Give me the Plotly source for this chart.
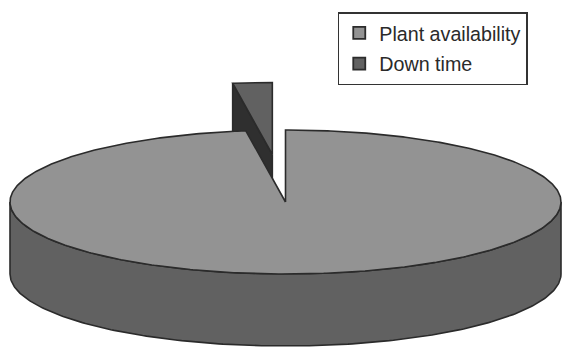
import numpy as np
import plotly.graph_objects as go

# Share of operating time
categories = ["Plant availability", "Down time"]
values = [97.7, 2.3]

# Styling / geometry of the tilted pie
top_colors = ["#939393", "#616161"]
side_colors = ["#616161", "#2f2f2f"]
edge = "#2b2b2b"
tilt = 0.2613          # vertical squash of the ellipse
depth = 0.2613         # thickness of the disc
explode = 0.662        # offset of the detached slice (fraction of radius)

W, H = 562, 347
cx_px, cy_px, rx_px = 285.5, 202.0, 275.5


def arc(t0, t1, ox=0.0, oy=0.0, dz=0.0, n=200):
    t = np.radians(np.linspace(t0, t1, n))
    return ox + np.sin(t), oy + tilt * np.cos(t) - dz


fracs = np.array(values) / sum(values)
bounds = np.concatenate([[0], np.cumsum(fracs) * 360])

fig = go.Figure()


def poly(xs, ys, fill):
    fig.add_trace(go.Scatter(
        x=list(xs) + [xs[0]], y=list(ys) + [ys[0]], mode="lines", fill="toself",
        fillcolor=fill, line=dict(color=edge, width=1.6), hoverinfo="skip",
        showlegend=False))


# Detached small slice (second category)
a0, a1 = bounds[1], bounds[2]
mid = np.radians((a0 + a1) / 2)
ox, oy = explode * np.sin(mid), explode * tilt * np.cos(mid)
px0, py0 = ox + np.sin(np.radians(a0)), oy + tilt * np.cos(np.radians(a0))
# cut face at the start angle
poly([ox, px0, px0, ox], [oy, py0, py0 - depth, oy - depth], side_colors[1])
# top face
ax, ay = arc(a0, a1, ox, oy)
poly(np.concatenate([[ox], ax]), np.concatenate([[oy], ay]), top_colors[1])

# Main slice (first category): front wall then top face
fx, fy = arc(90, 270)
bx, by = arc(270, 90, dz=depth)
poly(np.concatenate([fx, bx]), np.concatenate([fy, by]), side_colors[0])
mx, my = arc(bounds[0], bounds[1], n=600)
poly(np.concatenate([[0], mx]), np.concatenate([[0], my]), top_colors[0])

# Legend entries
for i, (name, col) in enumerate(zip(categories, top_colors)):
    fig.add_trace(go.Scatter(
        x=[None], y=[None], mode="markers", name=name, legendgroup=name,
        marker=dict(symbol="square", size=12, color=col,
                    line=dict(color=edge, width=1.8))))

x_lo = -cx_px / rx_px
x_hi = (W - cx_px) / rx_px
y_hi = cy_px / rx_px
y_lo = -(H - cy_px) / rx_px

fig.update_layout(
    width=W, height=H, margin=dict(l=0, r=0, t=0, b=0),
    paper_bgcolor="white", plot_bgcolor="white",
    xaxis=dict(range=[x_lo, x_hi], visible=False, fixedrange=True),
    yaxis=dict(range=[y_lo, y_hi], visible=False, fixedrange=True),
    font=dict(family="Liberation Sans, Arial, sans-serif", size=19.7, color="#2a2a2a"),
    legend=dict(x=0.601, y=0.965, xanchor="left", yanchor="top",
                bordercolor="#333333", borderwidth=1.5, bgcolor="white",
                traceorder="grouped", tracegroupgap=2,
                font=dict(size=19.7)),
    showlegend=True,
)

fig.write_html("out.html")
